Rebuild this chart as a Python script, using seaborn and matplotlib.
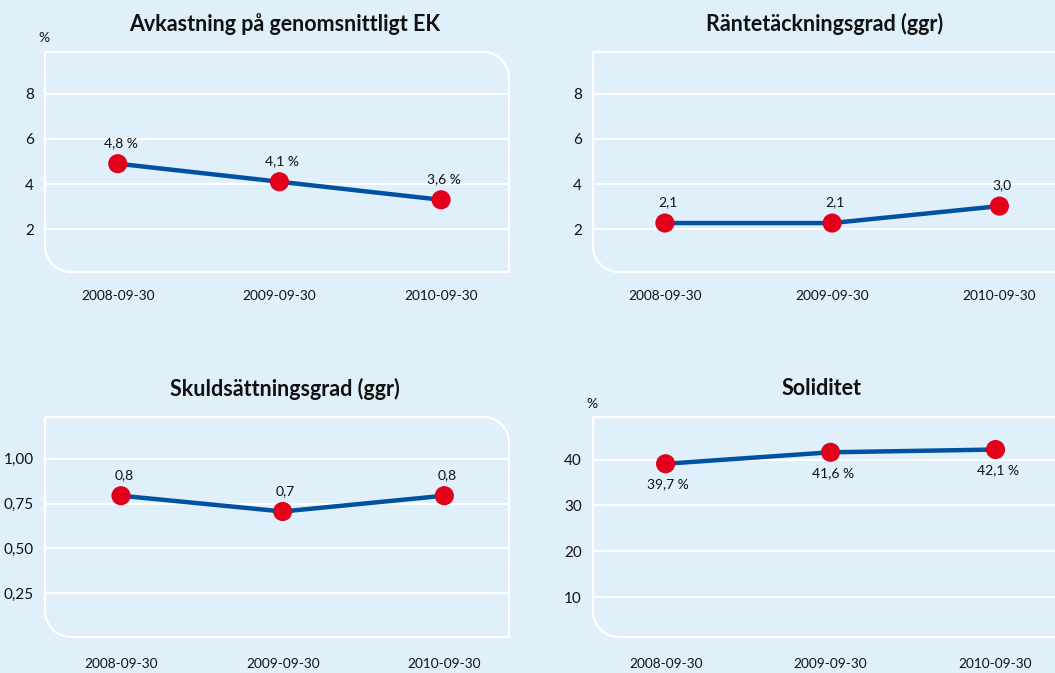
import numpy as np
import pandas as pd
import matplotlib
matplotlib.use("Agg")
import matplotlib.pyplot as plt
from matplotlib.patches import PathPatch
from matplotlib.path import Path
import seaborn as sns

# ── Data ──────────────────────────────────────────────────────────────────────
dates = ["2008-09-30", "2009-09-30", "2010-09-30"]

avk_values = [4.9, 4.1, 3.3]
avk_labels = ["4,8 %", "4,1 %", "3,6 %"]

rante_values = [2.27, 2.27, 3.02]
rante_labels = ["2,1", "2,1", "3,0"]

skuld_values = [0.794, 0.706, 0.794]
skuld_labels = ["0,8", "0,7", "0,8"]

solid_values = [39.1, 41.6, 42.2]
solid_labels = ["39,7 %", "41,6 %", "42,1 %"]

# ── Style ─────────────────────────────────────────────────────────────────────
BG = "#dff0fb"
LINE = "#0052a0"
DOT = "#e2001a"

sns.set_style("white", {"axes.facecolor": BG, "figure.facecolor": BG})
plt.rcParams["font.family"] = ["Lato", "DejaVu Sans"]

W, H = 1055, 673
fig = plt.figure(figsize=(W / 100, H / 100), dpi=100)
fig.patch.set_facecolor(BG)


def px_axes(left, top, right, bottom):
    return fig.add_axes([left / W, 1 - bottom / H, (right - left) / W, (bottom - top) / H])


def rounded_box(ax, wpx, hpx, r=26):
    rx, ry = r / wpx, r / hpx
    t = np.linspace(0, np.pi / 2, 20)
    pts = [(0, 1), (1 - rx, 1)]
    # top-right corner
    pts += list(zip(1 - rx + rx * np.sin(t), 1 - ry + ry * np.cos(t)))
    pts += [(1, 0), (rx, 0)]
    # bottom-left corner
    pts += list(zip(rx - rx * np.sin(t), ry - ry * np.cos(t)))
    pts += [(0, 1)]
    ax.add_patch(PathPatch(Path(pts), transform=ax.transAxes, fill=False,
                           edgecolor="white", lw=1.6, clip_on=False, zorder=1))


def panel(box, xlim, ylim, yticks, yticklabels, values, labels, title, title_xy,
          label_dy=15, unit_xy=None, xpad=13):
    left, top, right, bottom = box
    ax = px_axes(left, top, right, bottom)
    ax.set_facecolor(BG)
    df = pd.DataFrame({"x": range(len(dates)), "y": values})
    sns.lineplot(data=df, x="x", y="y", color=LINE, lw=3.2, ax=ax, zorder=3)
    sns.scatterplot(data=df, x="x", y="y", color=DOT, s=190, edgecolor="none",
                    ax=ax, zorder=4)
    for xi, yi, lab in zip(df["x"], df["y"], labels):
        ax.annotate(lab, (xi, yi), xytext=(2, label_dy), textcoords="offset points",
                    ha="center", va="center", fontsize=10, color="#111111")
    ax.set_xlim(*xlim)
    ax.set_ylim(*ylim)
    ax.set_yticks(yticks)
    ax.set_yticklabels(yticklabels, fontsize=11, color="#111111")
    ax.set_xticks(range(len(dates)))
    ax.set_xticklabels(dates, fontsize=9.8, color="#111111")
    ax.tick_params(axis="y", length=0, pad=8)
    ax.tick_params(axis="x", length=0, pad=xpad)
    ax.set_xlabel("")
    ax.set_ylabel("")
    ax.grid(axis="y", color="white", lw=1.5, zorder=0)
    ax.set_axisbelow(True)
    for s in ax.spines.values():
        s.set_visible(False)
    rounded_box(ax, right - left, bottom - top)
    fig.text(title_xy[0] / W, 1 - title_xy[1] / H, title, ha="center", va="center",
             fontsize=15.5, fontweight="bold", color="#111111")
    if unit_xy is not None:
        fig.text(unit_xy[0] / W, 1 - unit_xy[1] / H, "%", ha="center", va="center",
                 fontsize=10, color="#111111")
    return ax


panel((45, 52, 509, 272), (-0.45, 2.42), (0.1, 9.85), [2, 4, 6, 8],
      ["2", "4", "6", "8"], avk_values, avk_labels,
      "Avkastning på genomsnittligt EK", (285, 24), unit_xy=(44, 38))

panel((593, 52, 1078, 272), (-0.43, 2.47), (0.1, 9.85), [2, 4, 6, 8],
      ["2", "4", "6", "8"], rante_values, rante_labels,
      "Räntetäckningsgrad (ggr)", (825, 24))

panel((45, 417, 509, 637), (-0.47, 2.4), (0.006, 1.233), [0.25, 0.5, 0.75, 1.0],
      ["0,25", "0,50", "0,75", "1,00"], skuld_values, skuld_labels,
      "Skuldsättningsgrad (ggr)", (285, 389), xpad=15)

panel((593, 417, 1078, 637), (-0.44, 2.5), (1.3, 49.3), [10, 20, 30, 40],
      ["10", "20", "30", "40"], solid_values, solid_labels,
      "Soliditet", (822, 389), label_dy=-15, unit_xy=(592, 404), xpad=15)

fig.savefig("out.png", dpi=100, facecolor=BG)
